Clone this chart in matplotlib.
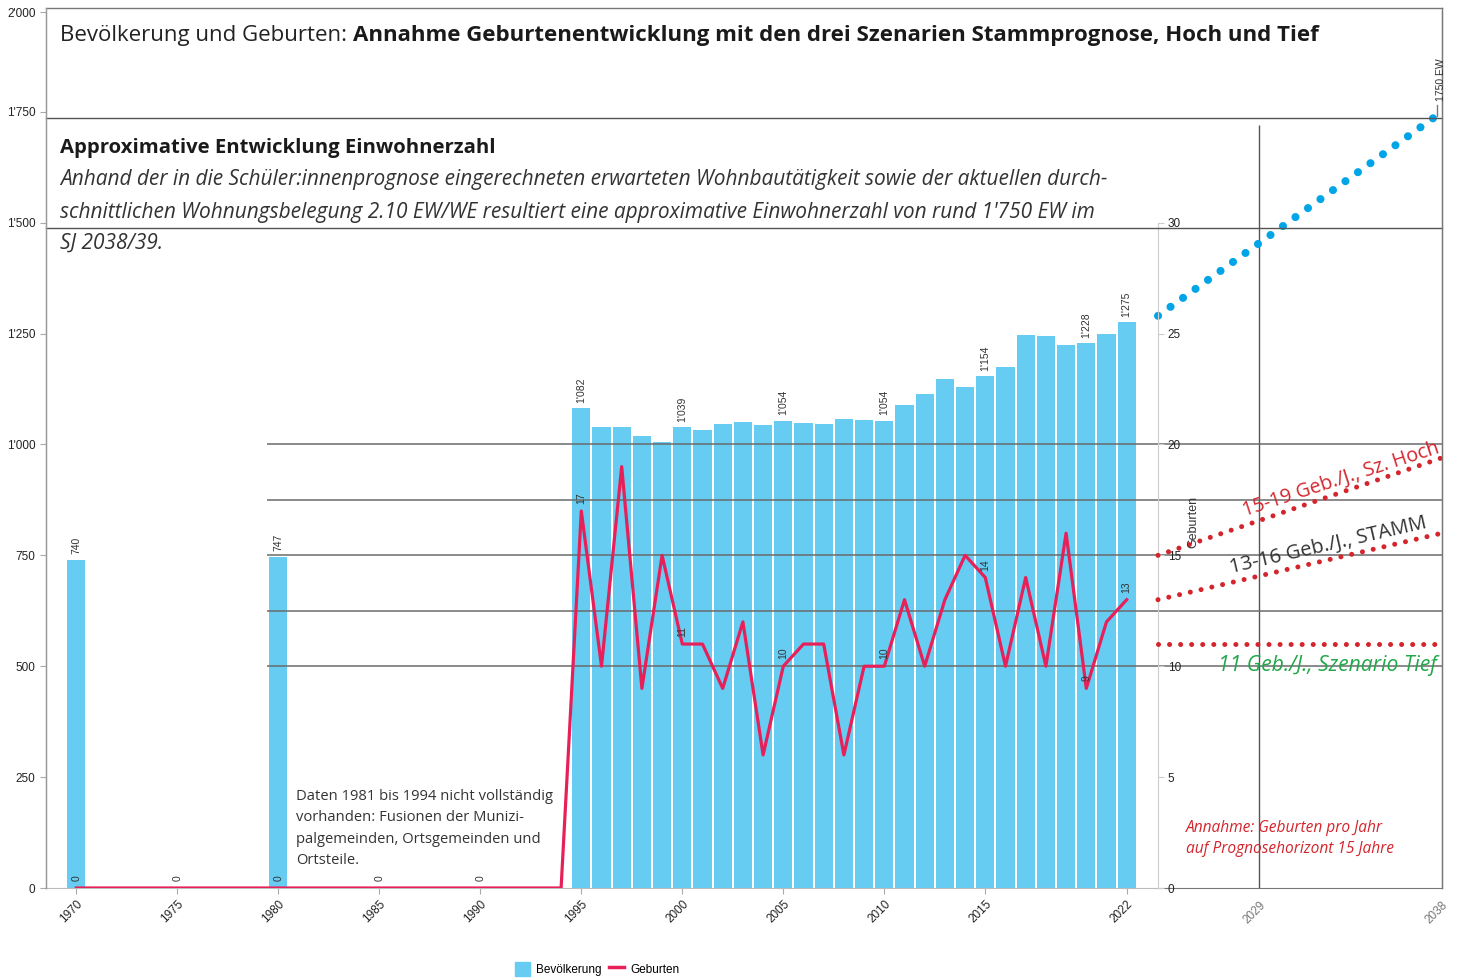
import matplotlib.pyplot as plt
from matplotlib.lines import Line2D
from matplotlib.patches import Patch

plt.rcParams['font.family'] = ['Liberation Sans', 'DejaVu Sans']

W, H = 1465, 980

# Bevoelkerung (Balken)
pop_years = [1970, 1980, 1995, 1996, 1997, 1998, 1999, 2000, 2001, 2002, 2003,
             2004, 2005, 2006, 2007, 2008, 2009, 2010, 2011, 2012, 2013, 2014,
             2015, 2016, 2017, 2018, 2019, 2020, 2021, 2022]
pop = [740, 747, 1082, 1040, 1040, 1020, 1005, 1039, 1032, 1045, 1050,
       1043, 1054, 1048, 1045, 1058, 1056, 1054, 1090, 1113, 1147, 1129,
       1154, 1175, 1246, 1244, 1224, 1228, 1250, 1275]

# Geburten (Linie)
birth_years = list(range(1970, 2023))
births = [0, 0, 0, 0, 0, 0, 0, 0, 0, 0, 0, 0, 0, 0, 0, 0, 0, 0, 0, 0, 0, 0, 0, 0, 0,
          17, 10, 19, 9, 15, 11, 11, 9, 12, 6, 10, 11, 11, 6, 10, 10,
          13, 10, 13, 15, 14, 10, 14, 10, 16, 9, 12, 13]

label_years = [1970, 1975, 1980, 1985, 1990, 1995, 2000, 2005, 2010, 2015, 2020, 2022]
xtick_years = [1970, 1975, 1980, 1985, 1990, 1995, 2000, 2005, 2010, 2015, 2022]
pop_ticks = [0, 250, 500, 750, 1000, 1250, 1500, 1750, 1974]
pop_tick_labels = ["0", "250", "500", "750", "1'000", "1'250", "1'500", "1'750", "2'000"]
birth_ticks = [0, 5, 10, 15, 20, 25, 30]
grid_births = [10, 12.5, 15, 17.5, 20]

# Prognose
proj_years = [2024, 2038]
proj_pop = [1290, 1750]
hoch = [15, 19.4]
stamm = [13, 16]
tief = [11, 11]
proj_ticks = [2029, 2038]

BAR = '#66CCF2'
LINE = '#E8205A'
BLUE = '#00A5E8'
RED = '#D4252D'
GREEN = '#22A84A'


def fx(px):
    return px / W


def fy(py):
    return 1 - py / H


fig = plt.figure(figsize=(W / 100, H / 100), dpi=100)

# --- main chart
ax = fig.add_axes([fx(46), fy(888), fx(1158) - fx(46), fy(12) - fy(888)])
ax.set_xlim(1968.5, 2023.55)
ax.set_ylim(0, 1975)
ax.bar(pop_years, pop, width=0.9, color=BAR, zorder=1)
for yr, v in zip(pop_years, pop):
    if yr in label_years:
        ax.annotate(f"{v:,}".replace(",", "'"), (yr, v), xytext=(0, 4),
                    textcoords='offset points', rotation=90, ha='center',
                    va='bottom', fontsize=7.5, color='#333')
for s in ['top', 'right']:
    ax.spines[s].set_visible(False)
ax.spines['left'].set_color('#999')
ax.spines['bottom'].set_color('#bbb')
ax.set_yticks(pop_ticks)
ax.set_yticklabels(pop_tick_labels)
ax.set_xticks(xtick_years)
ax.set_xticklabels([str(y) for y in xtick_years], rotation=45, ha='right',
                   rotation_mode='anchor')
ax.tick_params(axis='both', length=4, color='#aaa', labelsize=8.5, labelcolor='#222')

axb = ax.twinx()
axb.set_ylim(0, 39.5)
axb.hlines(grid_births, 1979.45, 2023.55, color='#6b6b6b', lw=1.1, zorder=1)
axb.plot(birth_years, births, color=LINE, lw=2.3, zorder=3)
for yr, v in zip(birth_years, births):
    if yr in label_years:
        axb.annotate(str(v), (yr, v), xytext=(0, 5), textcoords='offset points',
                     rotation=90, ha='center', va='bottom', fontsize=7.5, color='#333')
axb.axis('off')

# --- Prognose-Bereich
axr = fig.add_axes([fx(1158), fy(888), fx(1442) - fx(1158), fy(12) - fy(888)])
axr.patch.set_alpha(0)
axr.set_xlim(2024, 2038)
axr.set_ylim(0, 1975)
axr.plot(proj_years, proj_pop, color=BLUE, lw=5.8, linestyle=(0, (0.01, 1.9)),
         dash_capstyle='round', clip_on=False, zorder=3)
axr.vlines(2029, 0, 1720, color='#555', lw=1)
axr.set_yticks([])
axr.set_xticks(proj_ticks)
axr.set_xticklabels([str(y) for y in proj_ticks], rotation=45, ha='right',
                    rotation_mode='anchor')
axr.tick_params(axis='x', length=0, labelsize=8.5, labelcolor='#777', pad=8)
axr.spines['top'].set_visible(False)
axr.spines['left'].set_visible(False)
axr.spines['right'].set_color('#777')
axr.spines['bottom'].set_color('#777')

axrb = axr.twinx()
axrb.set_ylim(0, 39.5)
axrb.hlines(grid_births, 2024, 2038, color='#6b6b6b', lw=1.1, zorder=1)
for series in [hoch, stamm, tief]:
    axrb.plot(proj_years, series, color=RED, lw=3.6, linestyle=(0, (0.01, 2.2)),
              dash_capstyle='round', clip_on=False, zorder=3)
for s in ['top', 'right', 'bottom']:
    axrb.spines[s].set_visible(False)
axrb.spines['left'].set_visible(True)
axrb.spines['left'].set_color('#ccc')
axrb.spines['left'].set_bounds(0, 30)
axrb.yaxis.set_ticks_position('left')
axrb.set_yticks(birth_ticks)
axrb.tick_params(axis='y', direction='in', length=4, color='#ccc', pad=-7,
                 labelsize=8.5, labelcolor='#222')
for t in axrb.get_yticklabels():
    t.set_ha('left')

# --- Rahmen und Texte
for (x0, y0, x1, y1, c) in [(46, 8, 1442, 8, '#777'), (46, 118, 1442, 118, '#555'),
                            (46, 228, 1442, 228, '#555'), (1442, 8, 1442, 888, '#777'),
                            (46, 8, 46, 888, '#999'), (1437, 105, 1437, 116, '#777')]:
    fig.add_artist(Line2D([fx(x0), fx(x1)], [fy(y0), fy(y1)], color=c, lw=1))

OS = ['Open Sans', 'DejaVu Sans']
t1 = fig.text(fx(60), fy(36), "Bevölkerung und Geburten: ", fontsize=16, family=OS,
              color='#222', va='center')
fig.add_artist(plt.Annotation(
    "Annahme Geburtenentwicklung mit den drei Szenarien Stammprognose, Hoch und Tief",
    xy=(1, 0.5), xycoords=t1, va='center', ha='left', fontsize=16, family=OS,
    fontweight='bold', color='#1a1a1a'))

fig.text(fx(60), fy(148), "Approximative Entwicklung Einwohnerzahl", fontsize=14.6,
         family=OS, fontweight='bold', color='#1a1a1a', va='center')
lines = ["Anhand der in die Schüler:innenprognose eingerechneten erwarteten Wohnbautätigkeit sowie der aktuellen durch-",
         "schnittlichen Wohnungsbelegung 2.10 EW/WE resultiert eine approximative Einwohnerzahl von rund 1'750 EW im",
         "SJ 2038/39."]
for ln, py in zip(lines, [180, 212, 243]):
    fig.text(fx(60), fy(py), ln, fontsize=15, family=OS, style='italic',
             color='#333', va='center')

fig.text(fx(296), fy(789), "Daten 1981 bis 1994 nicht vollständig\nvorhanden: Fusionen der Munizi-\n"
         "palgemeinden, Ortsgemeinden und\nOrtsteile.", fontsize=10.6, family=OS,
         color='#333', va='top', ha='left', linespacing=1.58)
fig.text(fx(1186), fy(820), "Annahme: Geburten pro Jahr\nauf Prognosehorizont 15 Jahre",
         fontsize=11.2, family=OS, style='italic', color=RED, va='top', ha='left',
         linespacing=1.45)

fig.text(fx(1341), fy(479), "15-19 Geb./J., Sz. Hoch", fontsize=14.2, family=OS, color=RED,
         rotation=18, rotation_mode='anchor', ha='center', va='center')
fig.text(fx(1328), fy(545), "13-16 Geb./J., STAMM", fontsize=14.5, family=OS, color='#333',
         rotation=13, rotation_mode='anchor', ha='center', va='center')
fig.text(fx(1327), fy(665), "11 Geb./J., Szenario Tief", fontsize=15.2, family=OS,
         style='italic', color=GREEN, ha='center', va='center')

fig.text(fx(1193), fy(522), "Geburten", rotation=90, fontsize=9, color='#333',
         ha='center', va='center')
fig.text(fx(1441), fy(80), "1750 EW", rotation=90, fontsize=7.5, color='#333',
         ha='center', va='center')

handles = [Patch(color=BAR), Line2D([0], [0], color=LINE, lw=2.5)]
fig.legend(handles, ["Bevölkerung", "Geburten"], loc='center',
           bbox_to_anchor=(fx(597), fy(969)), ncol=2, frameon=False, fontsize=8.5,
           handlelength=1.3, handleheight=1.5, handletextpad=0.5, columnspacing=0.6)

fig.savefig('out.png', dpi=100)
